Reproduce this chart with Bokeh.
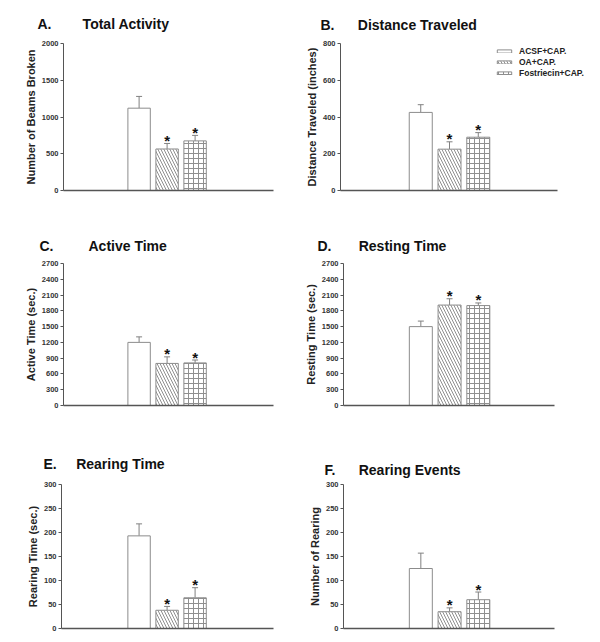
from bokeh.plotting import figure
from bokeh.models import Range1d, Whisker, TeeHead, ColumnDataSource, Legend, LegendItem, FixedTicker
from bokeh.layouts import column, row
from bokeh.embed import file_html
from bokeh.resources import INLINE
from bokeh.core.properties import value

# ---------------- data ----------------
groups = ["ACSF+CAP.", "OA+CAP.", "Fostriecin+CAP."]
significant = [False, True, True]

total_activity_mean = [1120, 565, 675]
total_activity_sem = [160, 75, 75]
total_activity_ticks = [0, 500, 1000, 1500, 2000]

distance_mean = [425, 225, 290]
distance_sem = [42, 40, 25]
distance_ticks = [0, 200, 400, 600, 800]

active_time_mean = [1200, 800, 810]
active_time_sem = [105, 125, 55]
active_time_ticks = [0, 300, 600, 900, 1200, 1500, 1800, 2100, 2400, 2700]

resting_time_mean = [1500, 1910, 1900]
resting_time_sem = [105, 120, 50]
resting_time_ticks = [0, 300, 600, 900, 1200, 1500, 1800, 2100, 2400, 2700]

rearing_time_mean = [193, 38, 64]
rearing_time_sem = [25, 8, 21]
rearing_time_ticks = [0, 50, 100, 150, 200, 250, 300]

rearing_events_mean = [125, 35, 60]
rearing_events_sem = [32, 8, 16]
rearing_events_ticks = [0, 50, 100, 150, 200, 250, 300]

FONT = "Liberation Sans"
BAR_LINE = "#8c8c8c"
HATCH = "#8f8f8f"
ERR = "#808080"
AXIS = "#555555"

bar_styles = [
    dict(fill_color="white"),
    dict(fill_color="white", hatch_pattern="left_diagonal_line", hatch_scale=6,
         hatch_color=HATCH, hatch_weight=1),
    dict(fill_color="white", hatch_pattern="cross", hatch_scale=5,
         hatch_color=HATCH, hatch_weight=1),
]


def make_panel(letter, title, gap, ylabel, means, sems, ticks, xr, w, h,
               bl, br, bt, bb, t_off, t_stand, axis_end=None, legend_loc=None):
    p = figure(width=w, height=h, x_range=Range1d(*xr),
               y_range=Range1d(ticks[0], ticks[-1]),
               output_backend="svg", toolbar_location=None,
               min_border_left=bl, min_border_right=br,
               min_border_top=bt, min_border_bottom=bb)
    xs = list(range(len(groups)))
    renderers = []
    for xi, m, st in zip(xs, means, bar_styles):
        r = p.vbar(x=[xi], top=[m], bottom=0, width=0.8,
                   line_color=BAR_LINE, line_width=1, **st)
        renderers.append(r)

    upper = [m + s for m, s in zip(means, sems)]
    src = ColumnDataSource(dict(x=xs, lower=means, upper=upper))
    wsk = Whisker(base="x", lower="lower", upper="upper", source=src,
                  line_color=ERR, line_width=1,
                  upper_head=TeeHead(size=6, line_color=ERR, line_width=1),
                  lower_head=None)
    p.add_layout(wsk)

    sx = [xi for xi, s in zip(xs, significant) if s]
    sy = [u for u, s in zip(upper, significant) if s]
    p.text(x=sx, y=sy, text=["*"] * len(sx), text_align="center",
           text_baseline="middle", y_offset=-3, text_font_size="15px",
           text_font_style="bold", text_font=value(FONT), text_color="#111111")

    p.title.text = letter + "\u00a0" * gap + title
    p.title.align = "left"
    p.title.offset = t_off
    p.title.standoff = t_stand
    p.title.text_font = FONT
    p.title.text_font_size = "14px"
    p.title.text_font_style = "bold"
    p.title.text_color = "#111111"

    ya = p.yaxis[0]
    ya.ticker = FixedTicker(ticks=ticks)
    ya.axis_label = ylabel
    ya.axis_label_text_font = FONT
    ya.axis_label_text_font_size = "11px"
    ya.axis_label_text_font_style = "bold"
    ya.axis_label_text_color = "#222222"
    ya.axis_label_standoff = 2
    ya.major_label_text_font = FONT
    ya.major_label_text_font_size = "7.5px"
    ya.major_label_text_font_style = "bold"
    ya.major_label_text_color = "#333333"
    ya.major_label_standoff = 2
    ya.major_tick_out = 3
    ya.major_tick_in = 0
    ya.minor_tick_line_color = None
    ya.axis_line_color = AXIS
    ya.major_tick_line_color = AXIS

    xa = p.xaxis[0]
    xa.ticker = FixedTicker(ticks=[])
    xa.major_label_text_font_size = "0px"
    xa.major_label_standoff = 0
    xa.major_tick_line_color = None
    xa.minor_tick_line_color = None
    xa.major_tick_out = 0
    xa.axis_line_color = AXIS
    xa.axis_line_width = 1.5
    if axis_end is not None:
        xa.bounds = (xr[0], axis_end)

    p.xgrid.visible = False
    p.ygrid.visible = False
    p.outline_line_color = None
    p.background_fill_color = "white"
    p.border_fill_color = "white"

    if legend_loc is not None:
        items = [LegendItem(label=g, renderers=[r]) for g, r in zip(groups, renderers)]
        lg = Legend(items=items, location=legend_loc, orientation="vertical",
                    glyph_width=18, glyph_height=4, label_height=11,
                    label_width=75, label_standoff=6, spacing=0, padding=0,
                    margin=0, border_line_color=None, background_fill_alpha=0,
                    label_text_font=FONT, label_text_font_size="8.5px",
                    label_text_font_style="bold", label_text_color="#222222")
        p.add_layout(lg)
    return p


LW, RW = 296, 304

pa = make_panel("A.", "Total Activity", 8, "Number of Beams Broken",
                total_activity_mean, total_activity_sem, total_activity_ticks,
                (-2.70, 4.80), LW, 210, 63, 23, 43, 20, -26, 24)
pb = make_panel("B.", "Distance Traveled", 6, "Distance Traveled (inches)",
                distance_mean, distance_sem, distance_ticks,
                (-2.79, 6.18), RW, 210, 44, 2, 42, 17, -20, 22,
                axis_end=4.76, legend_loc=(155, 112))
pc = make_panel("C.", "Active Time", 9, "Active Time (sec.)",
                active_time_mean, active_time_sem, active_time_ticks,
                (-2.70, 4.80), LW, 215, 63, 23, 53, 16, -24, 20)
pd = make_panel("D.", "Resting Time", 7, "Resting Time (sec.)",
                resting_time_mean, resting_time_sem, resting_time_ticks,
                (-2.69, 4.65), RW, 215, 47, 46, 48, 20, -26, 19)
pe = make_panel("E.", "Rearing Time", 5, "Rearing Time (sec.)",
                rearing_time_mean, rearing_time_sem, rearing_time_ticks,
                (-2.77, 4.80), LW, 217, 61, 23, 56, 14, -18, 25)
pf = make_panel("F.", "Rearing Events", 6, "Number of Rearing",
                rearing_events_mean, rearing_events_sem, rearing_events_ticks,
                (-2.69, 4.65), RW, 217, 47, 46, 59, 11, -19, 14)

layout = column(row(pa, pb), row(pc, pd), row(pe, pf))

open("out.html", "w").write(file_html(layout, INLINE))
